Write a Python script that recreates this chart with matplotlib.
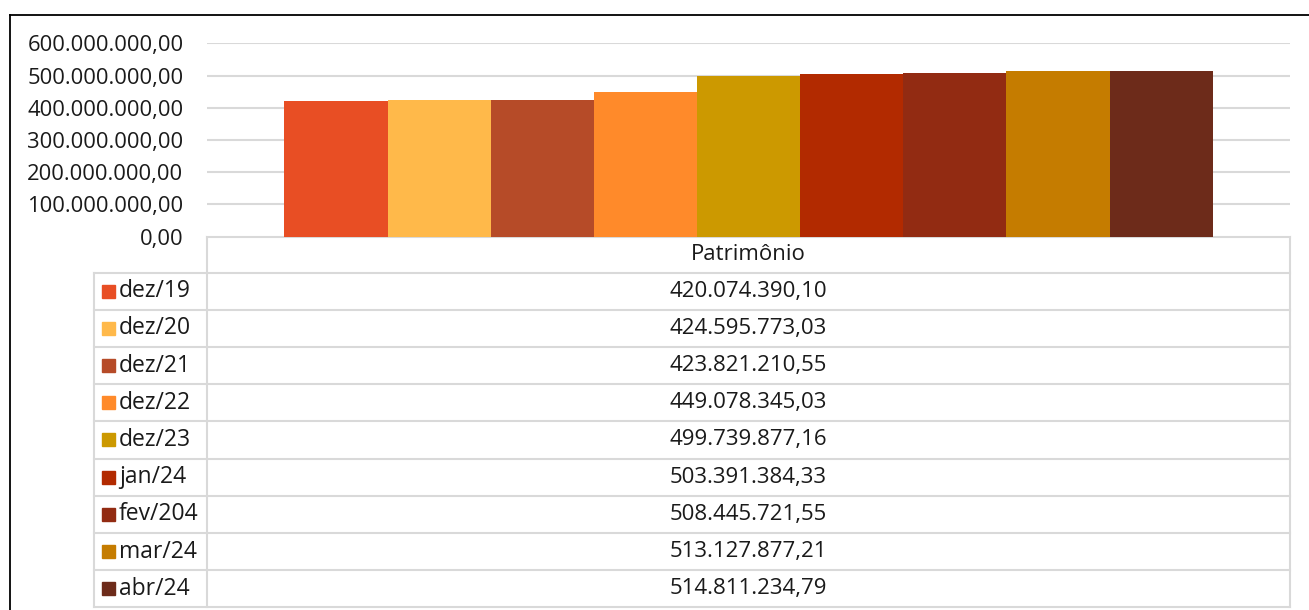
import matplotlib
matplotlib.use("Agg")
import matplotlib.pyplot as plt
from matplotlib.patches import Rectangle
from matplotlib.ticker import FuncFormatter

plt.rcParams['font.family'] = ['Open Sans', 'DejaVu Sans']

# dados
periodos = ["dez/19", "dez/20", "dez/21", "dez/22", "dez/23",
            "jan/24", "fev/204", "mar/24", "abr/24"]
patrimonio = [420074390.10, 424595773.03, 423821210.55, 449078345.03,
              499739877.16, 503391384.33, 508445721.55, 513127877.21,
              514811234.79]
cores = ["#E84E24", "#FFB94A", "#B64B28", "#FF8A2A", "#CC9900",
         "#B22A00", "#922B12", "#C57C00", "#6D2B1A"]
categoria = "Patrimônio"
y_ticks = [0, 100e6, 200e6, 300e6, 400e6, 500e6, 600e6]


def br(v):
    s = f"{v:,.2f}"
    return s.replace(",", "X").replace(".", ",").replace("X", ".")


W, H = 1309, 610
GRID = "#D9D9D9"
TXT = "#1a1a1a"

fig = plt.figure(figsize=(W / 100, H / 100), dpi=100)

# camada em pixels para borda e tabela
tab = fig.add_axes([0, 0, 1, 1])
tab.set_xlim(0, W)
tab.set_ylim(H, 0)
tab.axis("off")
tab.patch.set_alpha(0)

# borda externa
tab.plot([10, 10], [15, H], color="black", lw=1.3)
tab.plot([10, W], [15, 15], color="black", lw=1.3)

# area do grafico
left, right = 207, 1290
top, bottom = 43.3, 236.7
ax = fig.add_axes([left / W, 1 - bottom / H, (right - left) / W, (bottom - top) / H])
n = len(patrimonio)
ax.bar(range(n), patrimonio, width=1.0, color=cores, zorder=3)
ax.set_xlim(-1.25, n - 1 + 1.25)
ax.set_ylim(0, 600e6)
ax.set_yticks(y_ticks)
ax.yaxis.set_major_formatter(FuncFormatter(lambda v, p: br(v)))
ax.tick_params(axis="y", length=0, pad=17, labelsize=15.8, colors=TXT)
ax.set_xticks([])
ax.grid(axis="y", color=GRID, lw=1.5, zorder=0)
for s in ax.spines.values():
    s.set_visible(False)

# tabela de dados
row0 = 272.5
rh = 37.2
x_key = 94
x_val = left
y_end = row0 + rh * n
lk = dict(color=GRID, lw=1.5)
tab.plot([x_val, right], [bottom, bottom], **lk)
for k in range(n + 1):
    y = row0 + k * rh
    tab.plot([x_key, right], [y, y], **lk)
tab.plot([x_key, x_key], [row0, y_end], **lk)
tab.plot([x_val, x_val], [bottom, y_end], **lk)
tab.plot([right, right], [bottom, y_end], **lk)

xc = (x_val + right) / 2
tab.text(xc, (bottom + row0) / 2, categoria, ha="center", va="center",
         fontsize=16, color=TXT)
for k, (p, v, c) in enumerate(zip(periodos, patrimonio, cores)):
    yc = row0 + k * rh + rh / 2
    tab.add_patch(Rectangle((102, yc - 6.5), 13, 13, color=c))
    tab.text(119, yc, p, ha="left", va="center", fontsize=16.5, color=TXT)
    tab.text(xc, yc, br(v), ha="center", va="center", fontsize=16,
             color=TXT)

fig.savefig("out.png", dpi=100)
